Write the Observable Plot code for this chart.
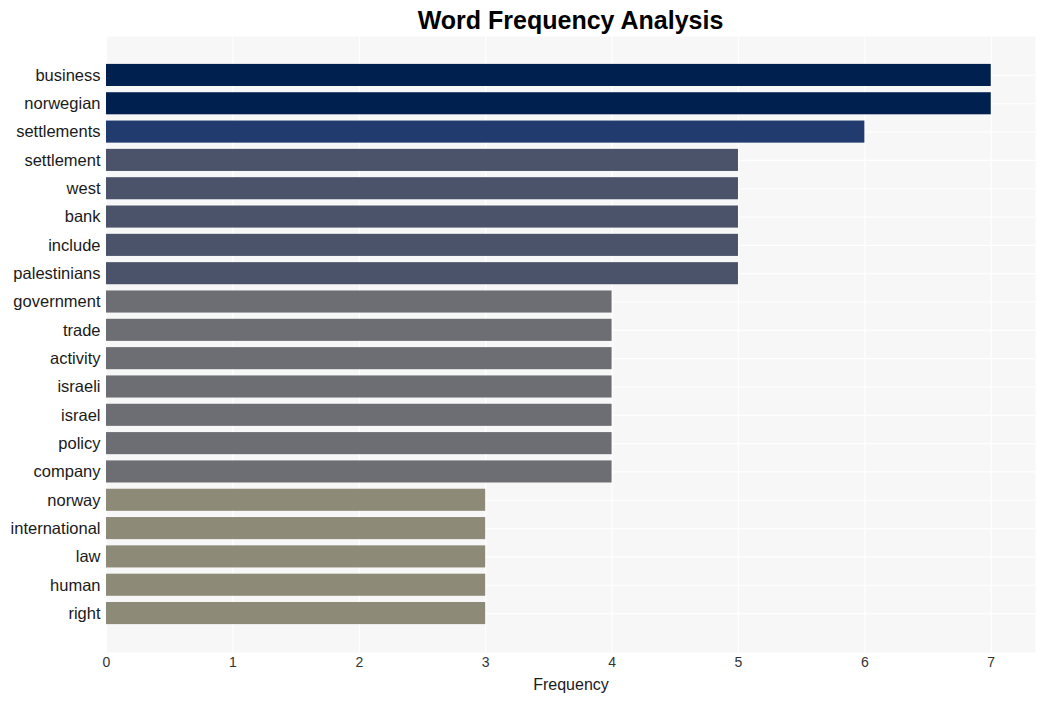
<!DOCTYPE html>
<html>
<head>
<meta charset="utf-8">
<script src="https://cdn.jsdelivr.net/npm/d3@7"></script>
<script src="https://cdn.jsdelivr.net/npm/@observablehq/plot@0.6"></script>
<style>
  html, body { margin: 0; padding: 0; background: #ffffff; }
  body { width: 1045px; height: 701px; overflow: hidden; font-family: "Liberation Sans", Arial, sans-serif; }
  #title { height: 36px; box-sizing: border-box; padding-left: 106px; width: 1035px; text-align: center;
           font-weight: bold; font-size: 25px; line-height: 40px; color: #000; }
  #chart svg { display: block; }
</style>
</head>
<body>
<div id="title">Word Frequency Analysis</div>
<div id="chart"></div>
<script>
const words = ["business", "norwegian", "settlements", "settlement", "west", "bank", "include", "palestinians",
  "government", "trade", "activity", "israeli", "israel", "policy", "company",
  "norway", "international", "law", "human", "right"];
const counts = [7, 7, 6, 5, 5, 5, 5, 5, 4, 4, 4, 4, 4, 4, 4, 3, 3, 3, 3, 3];
const xTicks = [0, 1, 2, 3, 4, 5, 6, 7];

const data = words.map((w, i) => ({word: w, count: counts[i]}));

const chart = Plot.plot({
  width: 1045,
  height: 665,
  marginTop: 0,
  marginBottom: 49,
  marginLeft: 106,
  marginRight: 10,
  style: {fontFamily: "Liberation Sans, Arial, sans-serif", background: "transparent"},
  x: {domain: [0, 7.35], ticks: xTicks, label: null},
  y: {domain: words, paddingInner: 0.22, paddingOuter: 0.985, round: false, label: null},
  color: {type: "ordinal", domain: [3, 4, 5, 6, 7], range: ["#8e8a78", "#6d6e73", "#4b536b", "#213b6e", "#00214f"]},
  marks: [
    Plot.frame({fill: "#f7f7f7", stroke: null}),
    Plot.gridX(xTicks, {stroke: "#ffffff", strokeOpacity: 1, strokeWidth: 1.2}),
    Plot.gridY(words, {stroke: "#ffffff", strokeOpacity: 1, strokeWidth: 1.2}),
    Plot.barX(data, {x: "count", y: "word", fill: d => d.count}),
    Plot.axisX(xTicks, {tickSize: 0, tickPadding: 5, fontSize: 14, fill: "#333333", tickFormat: d3.format("d"), label: null}),
    Plot.axisY(words, {tickSize: 0, tickPadding: 6, fontSize: 16.5, fill: "#1a1a1a", label: null}),
    Plot.text(["Frequency"], {frameAnchor: "bottom", dy: 37, fontSize: 16, fill: "#1a1a1a"})
  ]
});
document.getElementById("chart").appendChild(chart);
</script>
</body>
</html>
